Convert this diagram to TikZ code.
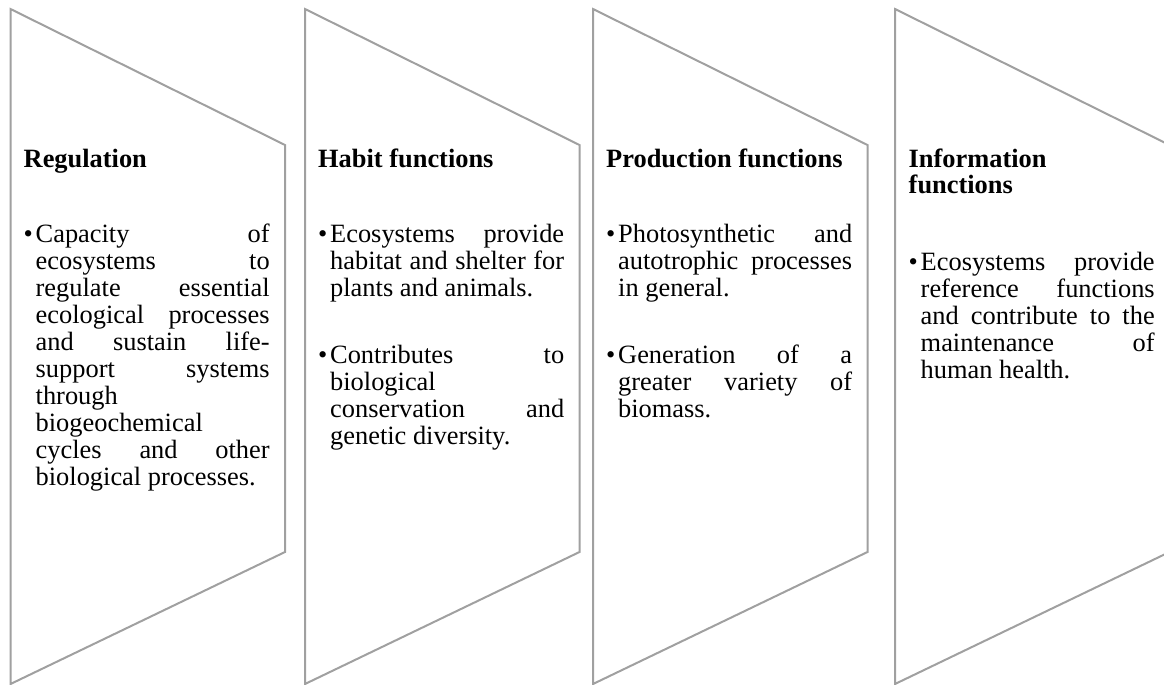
\documentclass[tikz,border=0pt]{standalone}
\usepackage{fontspec}
\setmainfont{Liberation Serif}
\definecolor{chevgray}{RGB}{160,160,160}
% one justified line, one flush-left line, bullet and indent
\newcommand{\jl}[1]{\makebox[234pt][s]{\spaceskip=0.25em plus 1fil\relax #1}}
\newcommand{\fl}[1]{\makebox[234pt][l]{\spaceskip=0.25em\relax #1}}
\newcommand{\bul}{\makebox[12pt][l]{\textbullet}}
\newcommand{\ind}{\hspace*{12pt}}
\newcommand{\tsp}{\spaceskip=0.25em\relax}
\hbadness=10000
\begin{document}
\begin{tikzpicture}[x=1pt,y=-1pt,
  chev/.style={draw=chevgray,line width=2pt,line join=miter},
  ttl/.style={anchor=base west,inner sep=0pt,text width=246pt,align=left,
    font=\fontsize{26.4}{26.7}\selectfont\bfseries},
  body/.style={anchor=base west,inner sep=0pt,text width=246pt,align=left,
    font=\fontsize{26.4}{27}\selectfont}]
\useasboundingbox (0,0) rectangle (1164,685);
\foreach \l in {10.5,305,593,895}
  \draw[chev] (\l,9) -- ++(274.5,136) -- ++(0,407) -- (\l,684) -- cycle;
% titles
\node[ttl] (reg-t) at (23.5,167) {Regulation};
\node[ttl] (hab-t) at (318,167) {\tsp Habit functions};
\node[ttl] (pro-t) at (606,167) {\tsp Production functions};
\node[ttl] (inf-t) at (908.5,167) {Information\\functions};
% bullet texts
\node[body] (reg-b) at (23.5,242.5) {\bul\jl{Capacity of}\\
  \ind\jl{ecosystems to}\\ \ind\jl{regulate essential}\\
  \ind\jl{ecological processes}\\ \ind\jl{and sustain life-}\\
  \ind\jl{support systems}\\ \ind\fl{through}\\ \ind\fl{biogeochemical}\\
  \ind\jl{cycles and other}\\ \ind\fl{biological processes.}};
\node[body] (hab-b) at (318,242.5) {\bul\jl{Ecosystems provide}\\
  \ind\jl{habitat and shelter for}\\ \ind\fl{plants and animals.}\\[40pt]
  \bul\jl{Contributes to}\\ \ind\fl{biological}\\
  \ind\jl{conservation and}\\ \ind\fl{genetic diversity.}};
\node[body] (pro-b) at (606,242.5) {\bul\jl{Photosynthetic and}\\
  \ind\jl{autotrophic processes}\\ \ind\fl{in general.}\\[40pt]
  \bul\jl{Generation of a}\\ \ind\jl{greater variety of}\\ \ind\fl{biomass.}};
\node[body] (inf-b) at (908.5,270) {\bul\jl{Ecosystems provide}\\
  \ind\jl{reference functions}\\ \ind\jl{and contribute to the}\\
  \ind\jl{maintenance of}\\ \ind\fl{human health.}};
\end{tikzpicture}
\end{document}
